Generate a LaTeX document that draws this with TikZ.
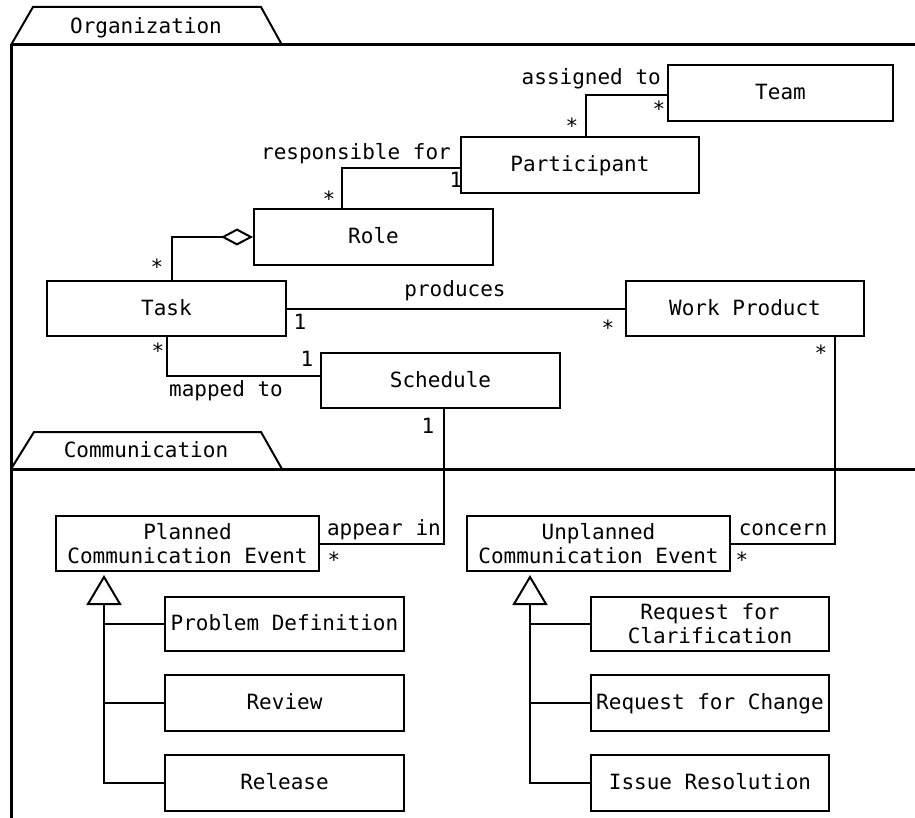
\documentclass[tikz,border=0pt]{standalone}
\usepackage{fontspec}
\setmainfont{DejaVu Sans Mono}
\usetikzlibrary{arrows.meta}
\tikzset{
  box/.style={draw, line width=2pt, inner sep=0pt, align=center},
  sbox/.style={box, text height=15pt, text depth=2pt},
  conn/.style={line width=2pt},
  frame/.style={line width=3pt},
  tab/.style={line width=2pt, line join=miter},
  lbl/.style={inner sep=0pt},
  mult/.style={inner sep=0pt, anchor=base},
  gen/.style={conn, -{Triangle[open, length=30pt, width=35pt]}},
  agg/.style={conn, -{Diamond[open, length=32pt, width=17pt]}},
}
\begin{document}
\begin{tikzpicture}[x=1pt,y=-1pt, font=\fontsize{21}{24}\selectfont]
\useasboundingbox (0,0) rectangle (915,818);
% frames
\draw[tab] (11,45) -- (33,7) -- (261,7) -- (282,45);
\node[lbl, anchor=base] (orgt) at (146,34) {Organization};
\draw[frame] (11,45) -- (915,45);
\draw[frame] (11,44) -- (11,818);
\draw[tab] (11,469) -- (34,432) -- (261,432) -- (282,469);
\node[lbl, anchor=base] (comt) at (146,457) {Communication};
\draw[frame] (11,469) -- (915,469);
% classes
\node[sbox, minimum width=225pt, minimum height=56pt] (team) at (780.5,93) {Team};
\node[sbox, minimum width=238pt, minimum height=56pt] (part) at (580,165) {Participant};
\node[sbox, minimum width=239pt, minimum height=56pt] (role) at (373.5,237) {Role};
\node[sbox, minimum width=239pt, minimum height=55pt] (task) at (166.5,308.5) {Task};
\node[sbox, minimum width=238pt, minimum height=55pt] (wp) at (745,308.5) {Work Product};
\node[sbox, minimum width=239pt, minimum height=55pt] (sched) at (440.5,380.5) {Schedule};
\node[box, minimum width=263pt, minimum height=55pt] (planned) at (187.5,543.5) {Planned\\Communication Event};
\node[box, minimum width=263pt, minimum height=55pt] (unplanned) at (598.5,543.5) {Unplanned\\Communication Event};
\node[sbox, minimum width=239pt, minimum height=54pt] (pd) at (284.5,624) {Problem Definition};
\node[sbox, minimum width=239pt, minimum height=56pt] (rev) at (284.5,703) {Review};
\node[sbox, minimum width=239pt, minimum height=56pt] (rel) at (284.5,783) {Release};
\node[box, minimum width=238pt, minimum height=54pt] (rfc) at (710,624) {Request for\\Clarification};
\node[sbox, minimum width=238pt, minimum height=56pt] (rfch) at (710,703) {Request for Change};
\node[sbox, minimum width=238pt, minimum height=56pt] (ir) at (710,783) {Issue Resolution};
% associations
\draw[conn] ([xshift=6pt]part.north) |- ([yshift=-2pt]team.west);
\node[lbl, anchor=base east] (l1) at (661,85) {assigned to};
\node[mult] (m1) at (659,117) {*};
\node[mult] (m2) at (572,134) {*};
\draw[conn] ([xshift=-31.5pt]role.north) |- ([yshift=-3pt]part.west);
\node[lbl, anchor=base east] (l2) at (451,160) {responsible for};
\node[mult] (m3) at (456,188) {1};
\node[mult] (m4) at (329,207) {*};
\draw[agg] ([xshift=5.5pt]task.north) |- (role.west);
\node[mult] (m5) at (157,274) {*};
\draw[conn] (task.east) -- (wp.west);
\node[lbl, anchor=base] (l3) at (455,296) {produces};
\node[mult] (m6) at (300,329) {1};
\node[mult] (m7) at (608,335) {*};
\draw[conn] (task.south) |- ([yshift=4.5pt]sched.west);
\node[lbl, anchor=base] (l4) at (226,396) {mapped to};
\node[mult] (m8) at (158,358) {*};
\node[mult] (m9) at (307,366) {1};
\draw[conn] ([xshift=3.5pt]sched.south) |- (planned.east);
\node[lbl, anchor=base east] (l5) at (441,535) {appear in};
\node[mult] (m10) at (428,433) {1};
\node[mult] (m11) at (334,567) {*};
\draw[conn] ([xshift=90pt]wp.south) |- (unplanned.east);
\node[lbl, anchor=base] (l6) at (783,535) {concern};
\node[mult] (m12) at (821,360) {*};
\node[mult] (m13) at (742,567) {*};
% generalizations
\coordinate (pg) at (104,783);
\draw[gen] (rel.west) -| ([xshift=-83.5pt,yshift=-3pt]planned.south);
\draw[conn] (pd.west) -- (pd.west -| pg);
\draw[conn] (rev.west) -- (rev.west -| pg);
\coordinate (ug) at (530,783);
\draw[gen] (ir.west) -| ([xshift=-68.5pt,yshift=-3pt]unplanned.south);
\draw[conn] (rfc.west) -- (rfc.west -| ug);
\draw[conn] (rfch.west) -- (rfch.west -| ug);
\end{tikzpicture}
\end{document}
